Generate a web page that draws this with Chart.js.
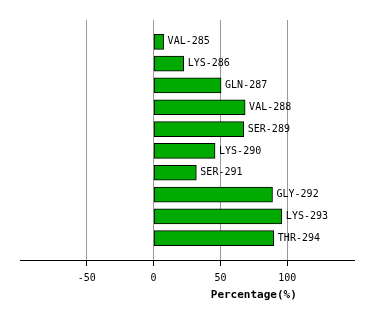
<!DOCTYPE html>
<html>
<head>
<meta charset="utf-8">
<script src="https://cdn.jsdelivr.net/npm/chart.js@4/dist/chart.umd.min.js"></script>
<style>
  html, body { margin: 0; padding: 0; background: #fff; }
  #wrap { width: 374px; height: 320px; }
</style>
</head>
<body>
<div id="wrap"><canvas id="chart-residues"></canvas></div>
<script>
// residues and their percentage values, top to bottom
const residues = ['VAL-285', 'LYS-286', 'GLN-287', 'VAL-288', 'SER-289', 'LYS-290', 'SER-291', 'GLY-292', 'LYS-293', 'THR-294'];
const percentages = [7.5, 22.5, 50.5, 68.5, 67.5, 46, 32, 89, 96, 90];
const xTicks = [-50, 0, 50, 100];
const xMin = -100;
const xMax = 150;
const axisTitle = 'Percentage(%)';

// blank slot above and below so the bars sit like the original
const labels = [''].concat(residues, ['']);
const values = [null].concat(percentages, [null]);

const barLabels = {
  id: 'barLabels',
  afterDatasetsDraw(chart) {
    const ctx = chart.ctx;
    const meta = chart.getDatasetMeta(0);
    ctx.save();
    ctx.font = '10px "DejaVu Sans Mono", monospace';
    ctx.fillStyle = '#000';
    ctx.textAlign = 'left';
    ctx.textBaseline = 'middle';
    meta.data.forEach((bar, i) => {
      if (values[i] == null) return;
      ctx.fillText(labels[i], bar.x + 4, bar.y);
    });
    // axis title
    const xs = chart.scales.x;
    ctx.font = 'bold 11px "DejaVu Sans Mono", monospace';
    ctx.textAlign = 'center';
    ctx.fillText(axisTitle, xs.getPixelForValue(75), chart.chartArea.bottom + 35);
    ctx.restore();
  }
};

const ctx_bar = document.getElementById('chart-residues');
new Chart(ctx_bar, {
  type: 'bar',
  data: {
    labels: labels,
    datasets: [{
      data: values,
      backgroundColor: 'rgb(0, 170, 0)',
      borderColor: '#000',
      borderWidth: 1,
      borderSkipped: false,
      barThickness: 15
    }]
  },
  options: {
    indexAxis: 'y',
    responsive: true,
    maintainAspectRatio: false,
    animation: false,
    layout: { padding: { left: 20, right: 20, top: 20, bottom: 30 } },
    plugins: { legend: { display: false }, tooltip: { enabled: false } },
    scales: {
      x: {
        min: xMin,
        max: xMax,
        afterBuildTicks: (axis) => { axis.ticks = xTicks.map(v => ({ value: v })); },
        grid: { color: '#999', tickColor: '#000', tickLength: 6, lineWidth: 1 },
        border: { color: '#000', width: 1 },
        ticks: {
          color: '#000',
          padding: 6,
          maxRotation: 0,
          font: { family: '"DejaVu Sans Mono", monospace', size: 10 }
        }
      },
      y: {
        display: false,
        offset: false
      }
    }
  },
  plugins: [barLabels]
});
</script>
</body>
</html>
